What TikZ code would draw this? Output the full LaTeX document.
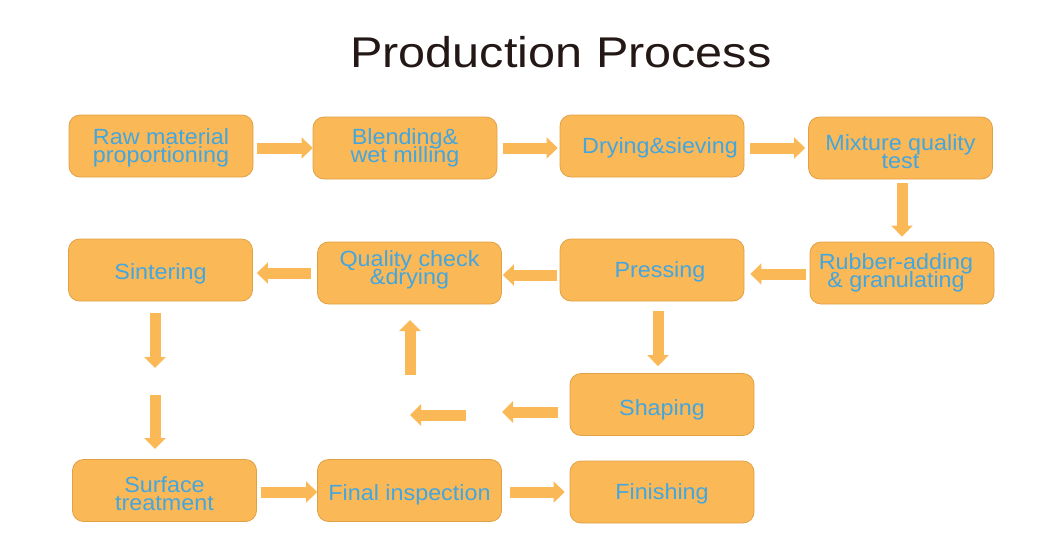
\documentclass[tikz,border=0pt]{standalone}
\usepackage{fontspec}
\setmainfont{Liberation Sans}
\newfontfamily\boxfont[FakeStretch=1.06]{Liberation Sans}
\newfontfamily\titlefont[FakeStretch=1.13]{Liberation Sans}
\usetikzlibrary{arrows.meta}
\definecolor{boxfill}{HTML}{FBB857}
\definecolor{boxline}{HTML}{E0A145}
\definecolor{txtblue}{HTML}{43A6DE}
\definecolor{titlecol}{HTML}{231815}
\lineskiplimit=-100pt
\lineskip=0pt
\tikzset{
  stepbox/.style={draw=boxline, line width=0.8pt, fill=boxfill, rounded corners=11pt,
    minimum width=184pt, minimum height=62pt, inner sep=0pt},
  boxtext/.style={align=center, inner sep=0pt, text=txtblue,
    font={\boxfont\fontsize{22}{18}\selectfont}},
  fat/.style={draw=boxfill, line width=11pt, -{Triangle[width=21pt,length=11pt]}}
}
\begin{document}
\begin{tikzpicture}[x=1pt,y=-1pt]
\useasboundingbox (0,0) rectangle (1060,552);
\node[anchor=base, text=titlecol, font=\titlefont\fontsize{43}{43}\selectfont] (title) at (561,67) {Production Process};
% boxes
\node[stepbox, label={[boxtext,yshift=-2.3pt]center:{Raw material\\proportioning}}] (raw) at (161,146) {};
\node[stepbox, label={[boxtext]center:{Blending\&\\wet milling}}] (blend) at (405,148) {};
\node[stepbox, label={[boxtext,xshift=8pt,yshift=-2.3pt]center:{Drying\&sieving}}] (dry) at (652,146) {};
\node[stepbox, label={[boxtext,yshift=-3.3pt]center:{Mixture quality\\test}}] (mix) at (900.5,148) {};
\node[stepbox, label={[boxtext,xshift=-6pt]center:{Rubber-adding\\\& granulating}}] (rub) at (902,273) {};
\node[stepbox, label={[boxtext,xshift=8pt,yshift=-2.3pt]center:{Pressing}}] (press) at (652,270) {};
\node[stepbox, label={[boxtext,yshift=2.7pt]center:{Quality check\\\&drying}}] (qual) at (409.5,273) {};
\node[stepbox, label={[boxtext,yshift=-4pt]center:{Sintering}}] (sint) at (160.5,270) {};
\node[stepbox, label={[boxtext,yshift=-5pt]center:{Shaping}}] (shap) at (662,404.5) {};
\node[stepbox, label={[boxtext,yshift=-2.8pt]center:{Surface\\treatment}}] (surf) at (164.5,490.5) {};
\node[stepbox, label={[boxtext,yshift=-4pt]center:{Final inspection}}] (final) at (409.5,490.5) {};
\node[stepbox, label={[boxtext,yshift=-2.3pt]center:{Finishing}}] (fin) at (662,492) {};
% free arrow ends
\coordinate (s1a) at (155,313);
\coordinate (s1b) at (155,368);
\coordinate (s2a) at (155,395);
\coordinate (s2b) at (155,449);
\coordinate (l1a) at (558,412);
\coordinate (l1b) at (502,412);
\coordinate (l2a) at (466,415);
\coordinate (l2b) at (410,415);
\coordinate (upa) at (410,375);
\coordinate (upb) at (410,320);
% arrows
\draw[fat] ([xshift=4pt]raw.east |- blend.west) -- (blend.west);
\draw[fat] ([xshift=6pt]blend.east) -- ([xshift=-2pt]dry.west |- blend.east);
\draw[fat] ([xshift=6pt]dry.east |- mix.west) -- ([xshift=-3pt]mix.west);
\draw[fat] ([xshift=1.5pt,yshift=-4pt]mix.south) -- ([yshift=5pt]rub.north);
\draw[fat] ([xshift=-4pt,yshift=-1pt]rub.west) -- ([xshift=6pt,yshift=-4pt]press.east);
\draw[fat] ([xshift=-3pt,yshift=-5pt]press.west) -- ([xshift=1pt,yshift=-2pt]qual.east);
\draw[fat] ([xshift=-6pt]qual.west) -- ([xshift=4pt,yshift=-3pt]sint.east);
\draw[fat] (s1a) -- (s1b);
\draw[fat] (s2a) -- (s2b);
\draw[fat] ([xshift=6pt,yshift=-10pt]press.south) -- ([xshift=-4pt,yshift=7pt]shap.north);
\draw[fat] (l1a) -- (l1b);
\draw[fat] (l2a) -- (l2b);
\draw[fat] (upa) -- (upb);
\draw[fat] ([xshift=4pt,yshift=-1.5pt]surf.east) -- ([yshift=-1.5pt]final.west);
\draw[fat] ([xshift=8pt,yshift=-1.5pt]final.east) -- ([xshift=-5pt]fin.west);
\end{tikzpicture}
\end{document}
